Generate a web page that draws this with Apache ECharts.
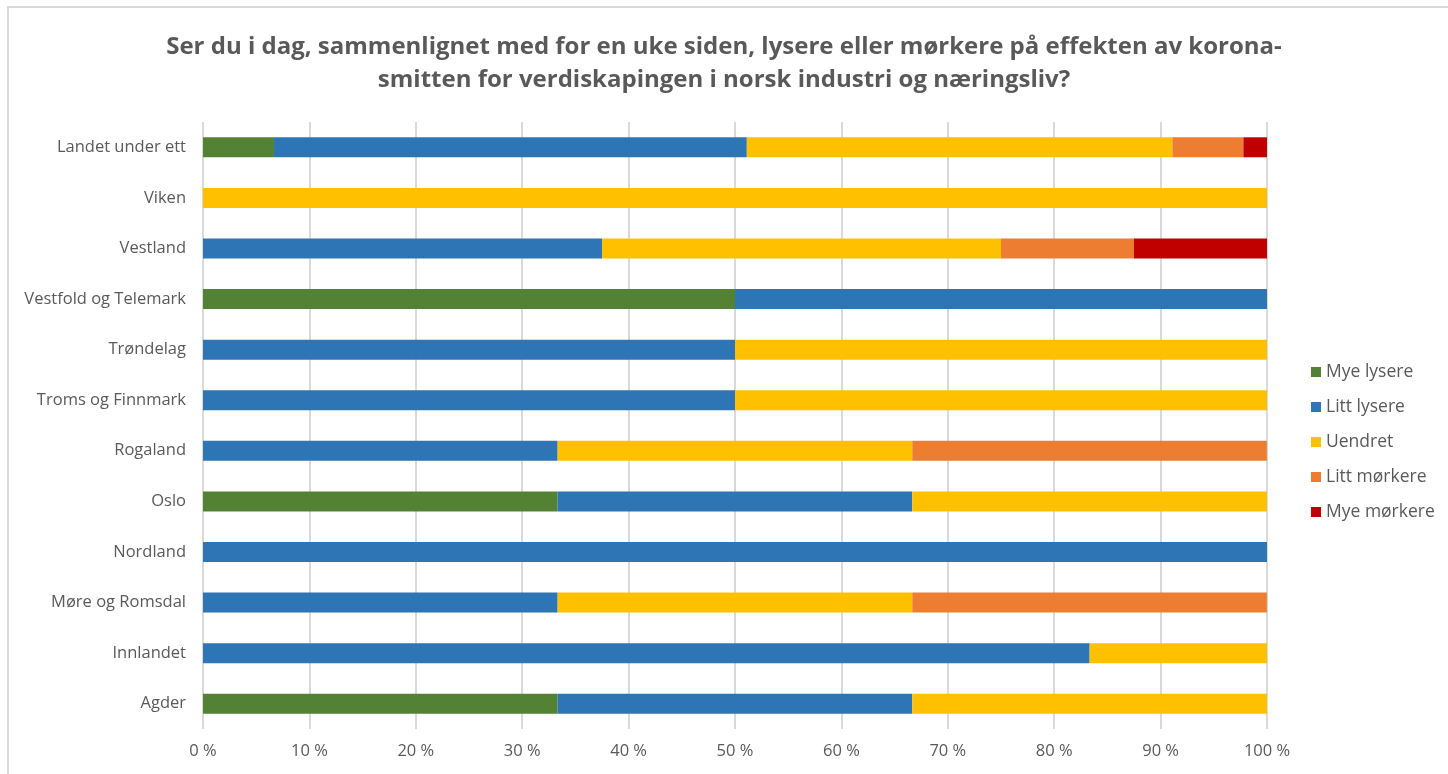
<!DOCTYPE html>
<html>
<head>
<meta charset="utf-8">
<script src="https://cdn.jsdelivr.net/npm/echarts@6/dist/echarts.min.js"></script>
<style>
  html, body { margin: 0; padding: 0; background: #fff; }
  #chart { width: 1448px; height: 774px; }
</style>
</head>
<body>
<div id="chart"></div>
<script>
// categories, top to bottom
const regions = [
  "Landet under ett", "Viken", "Vestland", "Vestfold og Telemark", "Trøndelag",
  "Troms og Finnmark", "Rogaland", "Oslo", "Nordland", "Møre og Romsdal",
  "Innlandet", "Agder"
];

// share of answers, percent
const myeLysere   = [6.67, 0, 0,    50, 0,  0,  0,     33.33, 0,   0,     0,     33.33];
const littLysere  = [44.44, 0, 37.5, 50, 50, 50, 33.33, 33.33, 100, 33.33, 83.33, 33.33];
const uendret     = [40,  100, 37.5, 0,  50, 50, 33.33, 33.33, 0,   33.33, 16.67, 33.33];
const littMorkere = [6.67, 0, 12.5, 0,  0,  0,  33.33, 0,     0,   33.33, 0,     0];
const myeMorkere  = [2.22, 0, 12.5, 0,  0,  0,  0,     0,     0,   0,     0,     0];

const seriesNames = ["Mye lysere", "Litt lysere", "Uendret", "Litt mørkere", "Mye mørkere"];
const seriesData = [myeLysere, littLysere, uendret, littMorkere, myeMorkere];
const colors = ["#548235", "#2E75B6", "#FFC000", "#ED7D31", "#C00000"];

const titleText = "Ser du i dag, sammenlignet med for en uke siden, lysere eller mørkere på effekten av korona-\nsmitten for verdiskapingen i norsk industri og næringsliv?";

const chart = echarts.init(document.getElementById("chart"));
const font = "Open Sans, sans-serif";

chart.setOption({
  backgroundColor: "#fff",
  animation: false,
  color: colors,
  title: {
    text: titleText,
    left: "center",
    top: 26,
    textStyle: {
      fontFamily: font,
      fontSize: 24,
      fontWeight: "bold",
      color: "#595959",
      lineHeight: 33,
      align: "center"
    }
  },
  graphic: [{
    type: "polyline",
    shape: { points: [[8, 780], [8, 7], [1460, 7]] },
    style: { stroke: "#d9d9d9", lineWidth: 2, fill: null },
    silent: true
  }],
  legend: {
    orient: "vertical",
    left: 1306,
    top: 358,
    itemWidth: 10,
    itemHeight: 10,
    itemGap: 17,
    icon: "rect",
    textStyle: { fontFamily: font, fontSize: 17.5, color: "#595959" },
    data: seriesNames
  },
  grid: { left: 203, right: 181, top: 122, bottom: 45 },
  xAxis: {
    type: "value",
    min: 0,
    max: 100,
    interval: 10,
    axisLine: { show: false },
    axisTick: { show: false },
    splitLine: { lineStyle: { color: "#d9d9d9", width: 2 } },
    axisLabel: {
      formatter: v => v + " %",
      fontFamily: font,
      fontSize: 16.5,
      color: "#595959",
      margin: 14
    }
  },
  yAxis: {
    type: "category",
    inverse: true,
    data: regions,
    axisLine: { show: false },
    axisTick: { show: false },
    axisLabel: {
      fontFamily: font,
      fontSize: 16.5,
      color: "#595959",
      margin: 17
    }
  },
  series: seriesNames.map((name, i) => ({
    name,
    type: "bar",
    stack: "total",
    barWidth: 20,
    data: seriesData[i],
    itemStyle: { color: colors[i] }
  }))
});
</script>
</body>
</html>
